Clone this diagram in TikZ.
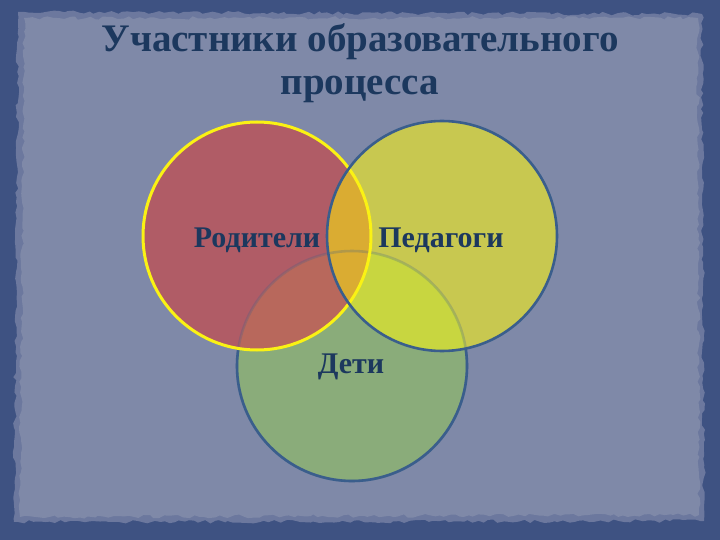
\documentclass[tikz,border=0pt]{standalone}
\usepackage{fontspec}
\setmainfont{Liberation Serif}
\usetikzlibrary{decorations.pathmorphing}
\definecolor{outerbg}{RGB}{62,82,130}
\definecolor{panel}{RGB}{127,137,168}
\definecolor{paneledge}{RGB}{108,120,158}
\definecolor{cred}{RGB}{176,92,102}
\definecolor{cyel}{RGB}{200,200,80}
\definecolor{cgreen}{RGB}{138,172,122}
\definecolor{cry}{RGB}{218,172,50}
\definecolor{cyg}{RGB}{200,214,64}
\definecolor{crg}{RGB}{184,104,92}
\definecolor{cblue}{RGB}{58,94,140}
\definecolor{cyline}{RGB}{250,242,20}
\definecolor{navy}{RGB}{28,56,94}
\tikzset{
  rough/.style={decorate, decoration={random steps, segment length=5pt, amplitude=1.8pt}},
  label/.style={text=navy, font=\bfseries\fontsize{30}{34}\selectfont, inner sep=0pt},
  ringblue/.style={draw=cblue, line width=2.6pt},
  ringyellow/.style={draw=cyline, line width=3pt}
}
\begin{document}
\begin{tikzpicture}[x=1pt,y=-1pt]
\useasboundingbox (0,0) rectangle (720,540);
\fill[outerbg] (0,0) rectangle (720,540);
\pgfmathsetseed{11}
\fill[paneledge, rough] (18,12) -- (702,14) -- (704,521) -- (14,522) -- cycle;
\fill[panel, rough] (24,18) -- (698,18) -- (699,515) -- (20,517) -- cycle;

\coordinate (R) at (257,236);
\coordinate (Y) at (442,236);
\coordinate (G) at (352,366);
\def\rr{114}
\def\ry{115}
\def\rg{115}

% base fills
\fill[cgreen] (G) circle[radius=\rg];
\fill[cred] (R) circle[radius=\rr];
\fill[cyel] (Y) circle[radius=\ry];
% overlaps
\begin{scope}
  \clip (G) circle[radius=\rg];
  \fill[crg] (R) circle[radius=\rr];
  \fill[cyg] (Y) circle[radius=\ry];
\end{scope}
\begin{scope}
  \clip (R) circle[radius=\rr];
  \fill[cry] (Y) circle[radius=\ry];
\end{scope}
% green ring: faint where covered, solid where free
\draw[cblue, line width=2.6pt, opacity=0.25] (G) circle[radius=\rg];
\draw[ringblue] (G) ++(189.2:\rg) arc[start angle=189.2, end angle=-8.7, radius=\rg];
% top rings
\draw[ringyellow] (R) circle[radius=\rr];
\draw[ringblue] (Y) circle[radius=\ry];

\node[label] (lr) at (257,240) {Родители};
\node[label] (ly) at (441,240) {Педагоги};
\node[label] (lg) at (351,367) {Дети};

\node[text=navy, font=\bfseries\fontsize{39}{43}\selectfont, align=center, anchor=north, inner sep=0pt] (title) at (360,23)
  {Участники образовательного\\процесса};
\end{tikzpicture}
\end{document}
